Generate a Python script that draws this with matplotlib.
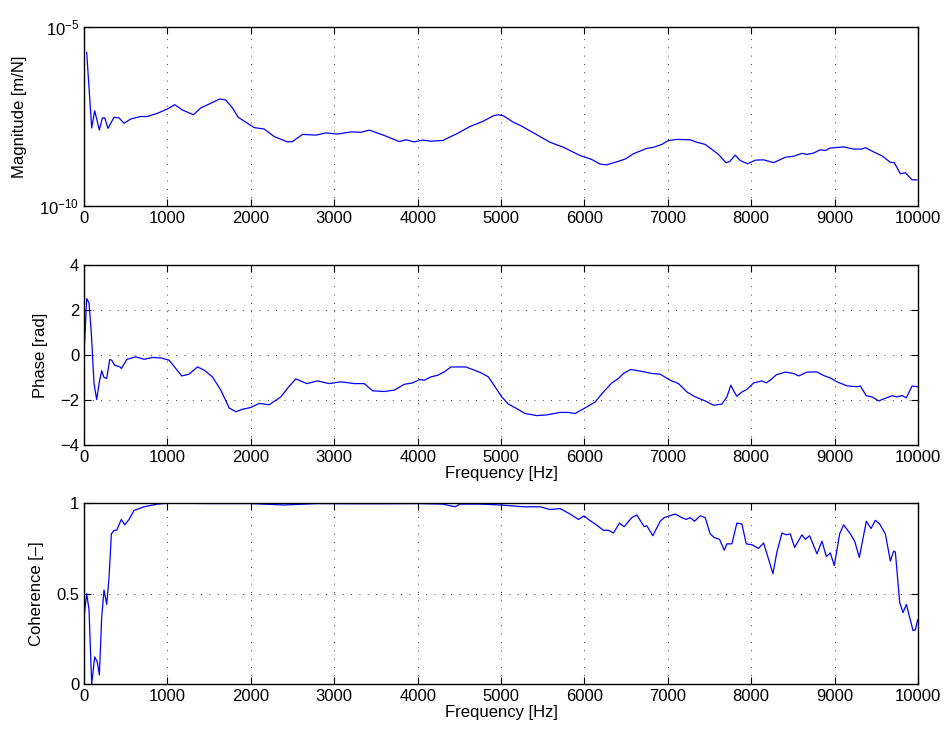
import matplotlib
matplotlib.use("Agg")
import matplotlib.pyplot as plt
from matplotlib.ticker import NullLocator

plt.rcParams['font.family'] = ['Liberation Sans', 'DejaVu Sans']
plt.rcParams['font.size'] = 12

# Magnitude (log10 of m/N)
mag_freq = [32, 92, 128, 184, 220, 248, 288, 360, 420, 480, 560, 680, 760, 880, 1000,
            1088, 1180, 1312, 1400, 1520, 1628, 1700, 1780, 1848, 1940, 2040, 2160, 2280,
            2440, 2500, 2620, 2780, 2900, 3040, 3200, 3320, 3420, 3600, 3780, 3860, 3960,
            4060, 4160, 4300, 4480, 4628, 4788, 4908, 4968, 5028, 5148, 5248, 5428, 5588,
            5748, 5948, 6088, 6188, 6268, 6368, 6488, 6588, 6748, 6828, 6928, 7008, 7108,
            7268, 7348, 7448, 7608, 7696, 7740, 7808, 7868, 7956, 8048, 8148, 8268, 8408,
            8508, 8608, 8668, 8748, 8828, 8888, 8948, 9108, 9228, 9328, 9368, 9468, 9568,
            9668, 9716, 9788, 9848, 9928, 9988]
mag_log = [-5.71, -7.82, -7.34, -7.88, -7.54, -7.54, -7.83, -7.52, -7.54, -7.69, -7.57,
           -7.50, -7.50, -7.41, -7.29, -7.17, -7.32, -7.45, -7.26, -7.13, -7.01, -7.04,
           -7.26, -7.52, -7.66, -7.81, -7.85, -8.06, -8.21, -8.20, -8.00, -8.02, -7.96,
           -7.99, -7.93, -7.94, -7.88, -8.03, -8.20, -8.15, -8.21, -8.16, -8.19, -8.17,
           -7.97, -7.78, -7.63, -7.48, -7.45, -7.48, -7.66, -7.77, -8.01, -8.22, -8.36,
           -8.59, -8.70, -8.83, -8.85, -8.78, -8.69, -8.54, -8.39, -8.36, -8.28, -8.17,
           -8.14, -8.15, -8.22, -8.28, -8.56, -8.79, -8.76, -8.58, -8.73, -8.82, -8.72,
           -8.71, -8.79, -8.64, -8.61, -8.53, -8.56, -8.52, -8.43, -8.45, -8.38, -8.35,
           -8.41, -8.41, -8.37, -8.49, -8.60, -8.78, -8.79, -9.10, -9.07, -9.27, -9.27]

# Phase [rad]
ph_freq = [0, 32, 60, 88, 120, 152, 184, 212, 240, 272, 308, 332, 368, 432, 448, 512, 620,
           720, 820, 920, 1020, 1100, 1172, 1260, 1360, 1440, 1540, 1640, 1740, 1820, 1900,
           2000, 2100, 2220, 2360, 2448, 2540, 2672, 2800, 2940, 3080, 3240, 3360, 3460,
           3600, 3720, 3840, 3940, 4020, 4080, 4160, 4240, 4320, 4400, 4580, 4628, 4760,
           4848, 4928, 5008, 5088, 5188, 5288, 5428, 5548, 5708, 5808, 5888, 5988, 6128,
           6228, 6328, 6408, 6468, 6556, 6688, 6808, 6908, 7028, 7128, 7228, 7328, 7448,
           7548, 7648, 7708, 7756, 7796, 7828, 7888, 7948, 8028, 8128, 8180, 8228, 8300,
           8408, 8508, 8568, 8668, 8788, 8868, 8948, 9028, 9148, 9268, 9308, 9380, 9448,
           9528, 9608, 9688, 9748, 9808, 9860, 9928, 9996]
phase = [0.0, 2.51, 2.31, 0.95, -1.27, -1.98, -1.19, -0.70, -1.00, -1.04, -0.20, -0.23,
         -0.45, -0.53, -0.60, -0.20, -0.08, -0.19, -0.11, -0.13, -0.23, -0.60, -0.93, -0.85,
         -0.53, -0.67, -0.97, -1.56, -2.35, -2.52, -2.41, -2.33, -2.15, -2.21, -1.86, -1.44,
         -1.06, -1.27, -1.15, -1.27, -1.19, -1.27, -1.27, -1.59, -1.62, -1.56, -1.30, -1.24,
         -1.09, -1.12, -0.97, -0.90, -0.75, -0.53, -0.53, -0.60, -0.79, -0.97, -1.41, -1.86,
         -2.18, -2.38, -2.60, -2.69, -2.66, -2.55, -2.55, -2.60, -2.39, -2.09, -1.64, -1.24,
         -1.04, -0.82, -0.64, -0.73, -0.82, -0.85, -1.12, -1.27, -1.64, -1.86, -2.04, -2.23,
         -2.18, -1.86, -1.34, -1.64, -1.83, -1.64, -1.53, -1.24, -1.15, -1.24, -1.12, -0.88,
         -0.76, -0.82, -0.93, -0.76, -0.75, -0.91, -1.02, -1.19, -1.37, -1.41, -1.38, -1.81,
         -1.86, -2.04, -1.92, -1.81, -1.86, -1.80, -1.90, -1.38, -1.41]

# Coherence [-]
coh_freq = [0, 32, 60, 92, 128, 160, 184, 212, 240, 272, 300, 328, 360, 392, 428, 448, 488,
            540, 600, 720, 880, 1000, 1500, 2000, 2400, 2800, 3200, 3600, 4000, 4300, 4450,
            4508, 4748, 5000, 5268, 5468, 5588, 5708, 5828, 5928, 5996, 6048, 6128, 6228,
            6288, 6348, 6420, 6476, 6568, 6628, 6716, 6748, 6820, 6908, 6956, 7088, 7168,
            7220, 7268, 7320, 7388, 7448, 7508, 7556, 7620, 7676, 7708, 7768, 7828, 7888,
            7940, 8008, 8088, 8148, 8208, 8260, 8308, 8368, 8420, 8468, 8520, 8608, 8648,
            8700, 8788, 8848, 8900, 8948, 8996, 9060, 9108, 9188, 9240, 9296, 9380, 9436,
            9488, 9540, 9608, 9668, 9708, 9728, 9780, 9820, 9860, 9940, 9968, 9996]
coherence = [0.37, 0.50, 0.41, 0.0, 0.15, 0.12, 0.05, 0.37, 0.52, 0.44, 0.59, 0.83, 0.85,
             0.85, 0.89, 0.91, 0.88, 0.91, 0.96, 0.98, 0.995, 1.0, 0.998, 0.998, 0.99, 0.998,
             0.997, 0.997, 0.998, 0.995, 0.98, 0.995, 0.995, 0.99, 0.98, 0.98, 0.965, 0.97,
             0.94, 0.91, 0.93, 0.91, 0.885, 0.85, 0.85, 0.835, 0.89, 0.87, 0.92, 0.935, 0.87,
             0.875, 0.82, 0.90, 0.92, 0.94, 0.92, 0.91, 0.92, 0.90, 0.93, 0.92, 0.83, 0.81,
             0.80, 0.74, 0.775, 0.775, 0.89, 0.885, 0.775, 0.77, 0.75, 0.78, 0.69, 0.61, 0.73,
             0.835, 0.825, 0.83, 0.755, 0.825, 0.80, 0.82, 0.72, 0.79, 0.705, 0.725, 0.655,
             0.83, 0.88, 0.83, 0.79, 0.70, 0.90, 0.86, 0.905, 0.885, 0.83, 0.68, 0.735, 0.73,
             0.45, 0.395, 0.44, 0.295, 0.30, 0.355]

x_ticks = [0, 1000, 2000, 3000, 4000, 5000, 6000, 7000, 8000, 9000, 10000]

fig = plt.figure(figsize=(9.44, 7.32), dpi=100)
ax_mag = fig.add_axes([0.089, 0.7186, 0.8835, 0.2445])
ax_ph = fig.add_axes([0.089, 0.392, 0.8835, 0.246])
ax_coh = fig.add_axes([0.089, 0.0656, 0.8835, 0.247])

ax_mag.plot(mag_freq, [10 ** v for v in mag_log], color='#0000ff', lw=0.9)
ax_mag.set_yscale('log')
ax_mag.set_ylim(1e-10, 1e-5)
ax_mag.set_yticks([1e-10, 1e-5])
ax_mag.yaxis.set_minor_locator(NullLocator())
ax_mag.set_ylabel('Magnitude [m/N]', labelpad=9)

ax_ph.plot(ph_freq, phase, color='#0000ff', lw=0.9)
ax_ph.set_ylim(-4, 4)
ax_ph.set_yticks([-4, -2, 0, 2, 4])
ax_ph.set_ylabel('Phase [rad]', labelpad=9)
ax_ph.set_xlabel('Frequency [Hz]', labelpad=1)

ax_coh.plot(coh_freq, coherence, color='#0000ff', lw=0.9)
ax_coh.set_ylim(0, 1)
ax_coh.set_yticks([0, 0.5, 1])
ax_coh.set_yticklabels(['0', '0.5', '1'])
ax_coh.set_ylabel('Coherence [\u2013]', labelpad=9)
ax_coh.set_xlabel('Frequency [Hz]', labelpad=1)

for ax in (ax_mag, ax_ph, ax_coh):
    ax.set_xlim(0, 10000)
    ax.set_xticks(x_ticks)
    ax.tick_params(direction='in', top=True, right=True, length=5, width=0.8)
    ax.grid(True, linestyle=(0, (1, 9)), color='black', linewidth=0.6)
    for s in ax.spines.values():
        s.set_linewidth(1.0)
ax_mag.yaxis.grid(False)

fig.savefig('out.png', dpi=100)
